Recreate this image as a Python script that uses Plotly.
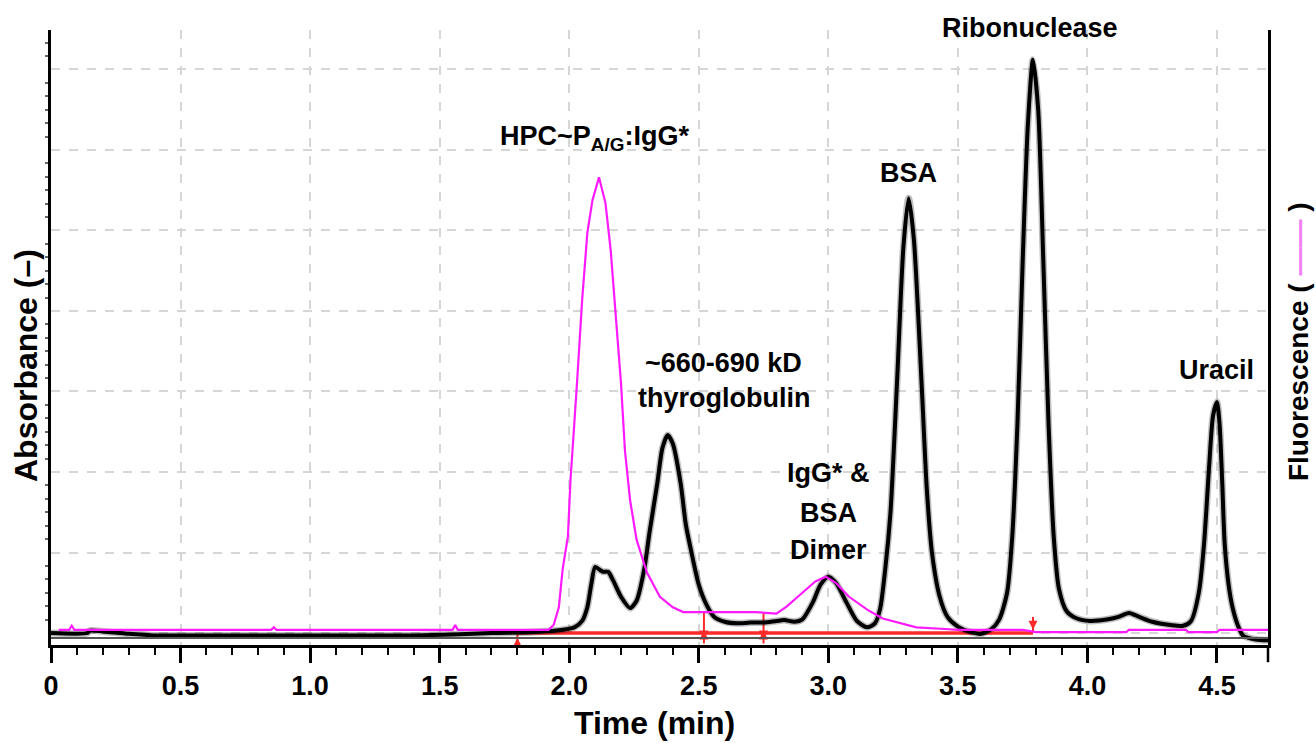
import plotly.graph_objects as go

# ---------------- data ----------------
time_abs = [0.00, 0.14, 0.15, 0.20, 0.30, 0.40, 0.80, 1.20, 1.40, 1.55, 1.70, 1.85, 1.95,
            2.02, 2.05, 2.07, 2.085, 2.10, 2.12, 2.13, 2.15, 2.17, 2.20, 2.235, 2.26, 2.29,
            2.31, 2.34, 2.36, 2.38, 2.40, 2.43, 2.45, 2.47, 2.50, 2.53, 2.56, 2.60, 2.65,
            2.70, 2.75, 2.80, 2.83, 2.87, 2.90, 2.94, 2.97, 3.00, 3.03, 3.07, 3.11, 3.15,
            3.18, 3.20, 3.22, 3.24, 3.265, 3.29, 3.31, 3.33, 3.36, 3.38, 3.40, 3.43, 3.46,
            3.50, 3.55, 3.59, 3.63, 3.66, 3.69, 3.71, 3.73, 3.75, 3.77, 3.79, 3.81, 3.83,
            3.85, 3.87, 3.89, 3.92, 3.96, 4.01, 4.08, 4.12, 4.16, 4.20, 4.25, 4.32, 4.37,
            4.40, 4.43, 4.45, 4.47, 4.485, 4.50, 4.51, 4.52, 4.53, 4.545, 4.56, 4.58, 4.60,
            4.65, 4.70]
absorbance = [0.00, 0.00, 0.03, 0.02, -0.01, -0.03, -0.03, -0.03, -0.03, -0.02, 0.00, 0.01, 0.03,
              0.07, 0.15, 0.32, 0.60, 0.82, 0.78, 0.76, 0.76, 0.65, 0.45, 0.31, 0.40, 0.80,
              1.25, 1.86, 2.30, 2.46, 2.35, 1.86, 1.35, 1.03, 0.60, 0.35, 0.20, 0.14, 0.12,
              0.13, 0.13, 0.15, 0.16, 0.14, 0.17, 0.38, 0.60, 0.70, 0.62, 0.38, 0.15, 0.07,
              0.12, 0.30, 0.80, 1.50, 3.10, 4.80, 5.40, 4.90, 3.10, 1.80, 1.00, 0.45, 0.20,
              0.08, 0.01, -0.01, 0.05, 0.17, 0.50, 1.20, 2.60, 4.60, 6.30, 7.12, 6.50, 4.60,
              2.60, 1.20, 0.55, 0.27, 0.18, 0.15, 0.17, 0.20, 0.25, 0.20, 0.14, 0.10, 0.09,
              0.15, 0.50, 1.10, 2.08, 2.70, 2.87, 2.60, 1.90, 1.10, 0.60, 0.32, 0.10, -0.03,
              -0.08, -0.09]

time_fl = [0.03, 0.07, 0.08, 0.09, 0.85, 0.86, 0.87, 1.55, 1.56, 1.57, 1.92, 1.94, 1.96,
           1.975, 1.995, 2.005, 2.03, 2.05, 2.07, 2.09, 2.115, 2.14, 2.16, 2.18, 2.20, 2.215,
           2.235, 2.26, 2.30, 2.35, 2.40, 2.44, 2.50, 2.72, 2.80, 2.84, 2.90, 2.95, 2.99,
           3.03, 3.08, 3.15, 3.21, 3.28, 3.34, 3.45, 3.50, 3.75, 3.80, 4.15, 4.16, 4.38,
           4.39, 4.50, 4.51, 4.70]
fluorescence = [0.04, 0.04, 0.09, 0.04, 0.04, 0.07, 0.04, 0.04, 0.10, 0.04, 0.04, 0.10, 0.32,
                0.80, 1.20, 1.90, 3.10, 4.14, 4.97, 5.38, 5.66, 5.34, 4.76, 3.93, 3.10, 2.27,
                1.65, 1.16, 0.75, 0.45, 0.32, 0.26, 0.26, 0.26, 0.24, 0.33, 0.50, 0.64, 0.70,
                0.62, 0.45, 0.29, 0.18, 0.12, 0.07, 0.05, 0.04, 0.04, 0.01, 0.01, 0.04, 0.04,
                0.01, 0.01, 0.04, 0.04]

# integration baseline and event marks (red)
red_mark_times = [1.80, 2.52, 2.75, 3.79]
red_mark_top = [-0.02, 0.26, 0.25, 0.20]
red_mark_bottom = [-0.13, -0.13, -0.13, 0.00]
baseline_level = 0.0

x_tick_vals = [0, 0.5, 1.0, 1.5, 2.0, 2.5, 3.0, 3.5, 4.0, 4.5]
x_tick_text = ["0", "0.5", "1.0", "1.5", "2.0", "2.5", "3.0", "3.5", "4.0", "4.5"]

peak_label_text = ["HPC~P<sub>A/G</sub>:IgG*", "~660-690 kD", "thyroglobulin",
                   "IgG* &", "BSA", "Dimer", "BSA", "Uracil"]
peak_label_x = [2.096, 2.597, 2.597, 3.00, 3.00, 3.00, 3.311, 4.50]
peak_label_y = [6.15, 3.36, 2.92, 1.99, 1.49, 1.03, 5.71, 3.27]

X_RANGE = [0, 4.697]
Y_RANGE = [-0.149, 7.49]
FONT = "Liberation Sans, Arial, sans-serif"

fig = go.Figure()

# fluorescence trace (right axis)
fig.add_trace(go.Scatter(x=time_fl, y=fluorescence, mode="lines", yaxis="y2",
                         line=dict(color="#ff1aff", width=2.2), hoverinfo="skip",
                         showlegend=False))

# integration baseline
fig.add_trace(go.Scatter(x=[red_mark_times[0], red_mark_times[-1]],
                         y=[baseline_level, baseline_level], mode="lines",
                         line=dict(color="#ff2a2a", width=3.5), showlegend=False))

# red event marks
mx, my = [], []
for t, top, bot in zip(red_mark_times, red_mark_top, red_mark_bottom):
    mx += [t, t, None]
    my += [top, bot, None]
fig.add_trace(go.Scatter(x=mx, y=my, mode="lines", line=dict(color="#ff2a2a", width=2),
                         showlegend=False))
fig.add_trace(go.Scatter(x=red_mark_times[:3], y=[-0.06, 0.03, 0.03], mode="markers",
                         marker=dict(symbol="arrow-up", size=9, color="#ff2a2a"),
                         showlegend=False))
fig.add_trace(go.Scatter(x=red_mark_times[1:], y=[-0.08, -0.08, 0.04], mode="markers",
                         marker=dict(symbol="arrow-down", size=9, color="#ff2a2a"),
                         showlegend=False))

# absorbance trace (halo + line)
fig.add_trace(go.Scatter(x=time_abs, y=absorbance, mode="lines",
                         line=dict(color="rgba(0,0,0,0.25)", width=7, shape="spline",
                                   smoothing=0.7),
                         showlegend=False, hoverinfo="skip"))
fig.add_trace(go.Scatter(x=time_abs, y=absorbance, mode="lines",
                         line=dict(color="black", width=4, shape="spline", smoothing=0.7),
                         showlegend=False))

# peak labels
for txt, x, y in zip(peak_label_text, peak_label_x, peak_label_y):
    fig.add_annotation(x=x, y=y, xref="x", yref="y", text=txt, showarrow=False,
                       font=dict(family=FONT, size=27, color="black", weight="bold"),
                       xanchor="center", yanchor="middle")
fig.add_annotation(x=3.78, y=1.003, xref="x", yref="paper", text="Ribonuclease",
                   showarrow=False, xanchor="center", yanchor="middle",
                   font=dict(family=FONT, size=27, color="black", weight="bold"))

# axis titles
fig.add_annotation(x=0.496, y=-0.127, xref="paper", yref="paper", text="Time (min)",
                   showarrow=False, xanchor="center", yanchor="middle",
                   font=dict(family=FONT, size=32, color="black", weight="bold"))
fig.add_annotation(x=-0.0205, y=0.4537, xref="paper", yref="paper", text="Absorbance (–)",
                   showarrow=False, textangle=-90, xanchor="center", yanchor="middle",
                   font=dict(family=FONT, size=32, color="black", weight="bold"))
fig.add_annotation(x=1.0255, y=0.4927, xref="paper", yref="paper",
                   text="Fluorescence ( <span style='color:#f47cf4'>——</span> )",
                   showarrow=False, textangle=-90, xanchor="center", yanchor="middle",
                   font=dict(family=FONT, size=28, color="black", weight="bold"))

# secondary horizontal line and right-axis extension
fig.add_shape(type="line", xref="paper", yref="y", x0=0, x1=1, y0=-0.062, y1=-0.062,
              line=dict(color="#555555", width=2))
fig.add_shape(type="line", xref="paper", yref="paper", x0=1, x1=1, y0=-0.028, y1=0,
              line=dict(color="black", width=2.5))

fig.update_layout(
    width=1316, height=743, autosize=False,
    margin=dict(l=51, r=48, t=30, b=98),
    paper_bgcolor="white", plot_bgcolor="white",
    showlegend=False,
    xaxis=dict(range=X_RANGE, tickmode="array", tickvals=x_tick_vals, ticktext=x_tick_text,
               showline=True, linecolor="black", linewidth=2.5, mirror=False,
               ticks="outside", ticklen=15, tickwidth=2.5, tickcolor="black",
               tickfont=dict(family=FONT, size=27, color="black", weight="bold"),
               showgrid=True, gridcolor="#d6d6d6", gridwidth=1.5, griddash="dash",
               zeroline=False,
               minor=dict(dtick=0.1, tick0=0, ticks="outside", ticklen=7, tickwidth=2,
                          tickcolor="black", showgrid=False)),
    yaxis=dict(range=Y_RANGE, dtick=1, tick0=0, showticklabels=False,
               showline=True, linecolor="black", linewidth=3, ticks="",
               showgrid=True, gridcolor="#d6d6d6", gridwidth=1.5, griddash="dash",
               zeroline=False,
               minor=dict(dtick=1/6, tick0=0, ticks="outside", ticklen=3, tickwidth=1.5,
                          tickcolor="#666666", showgrid=False)),
    yaxis2=dict(range=Y_RANGE, overlaying="y", side="right", showticklabels=False,
                showline=True, linecolor="black", linewidth=2.5, ticks="",
                showgrid=False, zeroline=False),
)

# remove the default 8px page margin so the figure fills the window exactly
fig.write_html("out.html",
               config={"displayModeBar": False},
               post_script="document.body.style.margin='0';"
                           "document.body.style.overflow='hidden';")
